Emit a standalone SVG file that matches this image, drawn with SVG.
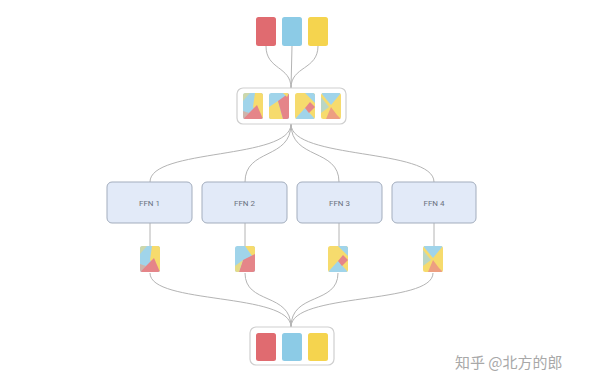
<svg xmlns="http://www.w3.org/2000/svg" width="600" height="388" viewBox="0 0 600 388">
<style>
.bg{fill:#ffffff}
.wire{fill:none;stroke:#b4b4b4;stroke-width:1}
.group{fill:#ffffff;stroke:#cfcfcf;stroke-width:1.2}
.ffn{fill:#e2eaf8;stroke:#a3adbd;stroke-width:1}
.lbl{font-family:"Roboto","Liberation Sans",sans-serif;font-size:8px;fill:#6b7280;text-anchor:middle}
.r{fill:#e06b70}
.b{fill:#8ccbe6}
.y{fill:#f5d44e}
.o{fill:#ea8a66}
.veil{fill:#ffffff;opacity:0.18}
.wm{font-family:"Noto Sans CJK SC","Liberation Sans",sans-serif;font-size:15px;fill:#a8a8a8}
</style>
<defs>
<clipPath id="tc"><rect x="0" y="0" width="20" height="26" rx="2.5"/></clipPath>
<g id="mixA" clip-path="url(#tc)">
<rect class="b" x="0" y="0" width="20" height="26"/>
<polygon class="y" points="12,0 20,0 20,26 10,14"/>
<polygon class="r" points="0,26 14,12 20,26"/>
<polygon class="o" points="0,18 6,20 0,26" opacity="0.6"/>
<polygon class="y" points="0,0 7,0 0,8" opacity="0.5"/>
<rect class="veil" x="0" y="0" width="20" height="26"/>
</g>
<g id="mixB" clip-path="url(#tc)">
<rect class="b" x="0" y="0" width="20" height="26"/>
<polygon class="y" points="0,26 0,14 9,8 14,26"/>
<polygon class="r" points="9,8 20,0 20,26 14,26"/>
<polygon class="y" points="14,0 20,0 18,4"/>
<rect class="veil" x="0" y="0" width="20" height="26"/>
</g>
<g id="mixC" clip-path="url(#tc)">
<rect class="y" x="0" y="0" width="20" height="26"/>
<polygon class="b" points="0,26 10,15 20,26"/>
<polygon class="b" points="10,0 20,0 20,10"/>
<polygon class="r" points="10,15 15,9 20,14 14,20"/>
<rect class="veil" x="0" y="0" width="20" height="26"/>
</g>
<g id="mixD" clip-path="url(#tc)">
<rect class="y" x="0" y="0" width="20" height="26"/>
<polygon class="b" points="0,0 20,0 10,12"/>
<polygon class="b" points="0,4 8,14 0,20" opacity="0.7"/>
<polygon class="o" points="5,26 10,14 16,22 20,26"/>
<rect class="veil" x="0" y="0" width="20" height="26"/>
</g>
<g id="mixE" clip-path="url(#tc)">
<rect class="b" x="0" y="0" width="20" height="26"/>
<polygon class="y" points="10,0 20,0 20,14"/>
<polygon class="r" points="8,14 20,8 20,26 4,26"/>
<polygon class="y" points="0,26 0,20 8,14 4,26" opacity="0.8"/>
<rect class="veil" x="0" y="0" width="20" height="26"/>
</g>
</defs>
<rect class="bg" x="0" y="0" width="600" height="388"/>

<g id="connectors">
<path class="wire" d="M266,46 C266,70 291,66 291,88"/>
<path class="wire" d="M292,46 L291,88"/>
<path class="wire" d="M318,46 C318,70 291,66 291,88"/>
<path class="wire" d="M291,124 C291,160 150,148 150,182"/>
<path class="wire" d="M291,124 C291,160 245,148 245,182"/>
<path class="wire" d="M291,124 C291,160 339,148 339,182"/>
<path class="wire" d="M291,124 C291,160 434,148 434,182"/>
<path class="wire" d="M150,223 L150,246"/>
<path class="wire" d="M245,223 L245,246"/>
<path class="wire" d="M339,223 L339,246"/>
<path class="wire" d="M434,223 L434,246"/>
<path class="wire" d="M150,273 C150,305 291,292 291,327"/>
<path class="wire" d="M245,273 C245,305 291,292 291,327"/>
<path class="wire" d="M338,273 C338,305 291,292 291,327"/>
<path class="wire" d="M433,273 C433,305 291,292 291,327"/>
</g>

<g id="input">
<rect class="r" x="256" y="17" width="20" height="29" rx="2.5"/>
<rect class="b" x="282" y="17" width="20" height="29" rx="2.5"/>
<rect class="y" x="308" y="17" width="20" height="29" rx="2.5"/>
</g>

<g id="mixed">
<rect class="group" x="237" y="88" width="109" height="36" rx="6"/>
<use href="#mixA" x="243" y="93"/>
<use href="#mixB" x="269" y="93"/>
<use href="#mixC" x="295" y="93"/>
<use href="#mixD" x="321" y="93"/>
</g>

<g id="ffn1">
<rect class="ffn" x="107" y="182" width="85" height="41" rx="5"/>
<text class="lbl" x="149.5" y="205.5">FFN 1</text>
</g>
<g id="ffn2">
<rect class="ffn" x="202" y="182" width="85" height="41" rx="5"/>
<text class="lbl" x="244.5" y="205.5">FFN 2</text>
</g>
<g id="ffn3">
<rect class="ffn" x="297" y="182" width="85" height="41" rx="5"/>
<text class="lbl" x="339.5" y="205.5">FFN 3</text>
</g>
<g id="ffn4">
<rect class="ffn" x="392" y="182" width="84" height="41" rx="5"/>
<text class="lbl" x="434" y="205.5">FFN 4</text>
</g>

<g id="out1"><use href="#mixA" x="140" y="246"/></g>
<g id="out2"><use href="#mixE" x="235" y="246"/></g>
<g id="out3"><use href="#mixC" x="328" y="246"/></g>
<g id="out4"><use href="#mixD" x="423" y="246"/></g>

<g id="output">
<rect class="group" x="250" y="327" width="84" height="38" rx="6"/>
<rect class="r" x="256" y="333" width="20" height="28" rx="2.5"/>
<rect class="b" x="282" y="333" width="20" height="28" rx="2.5"/>
<rect class="y" x="308" y="333" width="20" height="28" rx="2.5"/>
</g>

<text class="wm" x="455" y="368">知乎 @北方的郎</text>
</svg>
